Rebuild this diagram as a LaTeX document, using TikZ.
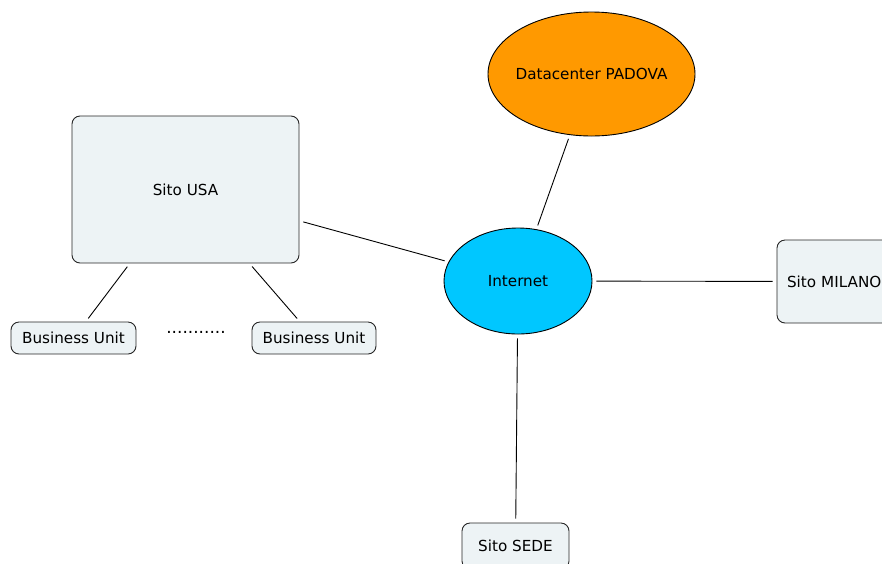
\documentclass[tikz,border=0pt]{standalone}
\usepackage{fontspec}
\setmainfont{DejaVu Sans}
\usetikzlibrary{shapes.geometric}
\definecolor{boxfill}{RGB}{237,243,245}
\definecolor{dcorange}{RGB}{255,153,0}
\definecolor{netcyan}{RGB}{0,199,255}
\tikzset{
  every node/.style={font=\fontsize{15.2}{18}\selectfont},
  site/.style={draw=black!85, line width=0.9pt, fill=boxfill, rounded corners=8pt, inner sep=0pt},
  cloud/.style={ellipse, draw=black, line width=0.9pt, inner sep=0pt},
  link/.style={line width=0.9pt, shorten <=4pt, shorten >=4pt}
}
\begin{document}
\begin{tikzpicture}[x=1pt, y=-1pt]
  \useasboundingbox (0,0) rectangle (882,563);
  % sites and clouds
  \node[cloud, fill=dcorange, inner xsep=-16pt, minimum width=207pt, minimum height=124pt] (dc) at (591.5,74) {Datacenter PADOVA};
  \node[cloud, fill=netcyan, minimum width=148pt, minimum height=106pt] (inet) at (518,281) {Internet};
  \node[site, minimum width=227pt, minimum height=147pt] (usa) at (185.5,189.5) {Sito USA};
  \node[site, minimum width=125pt, minimum height=32pt] (bu1) at (73.5,338) {Business Unit};
  \node[site, minimum width=124pt, minimum height=32pt] (bu2) at (314,338) {Business Unit};
  \node[font=\fontsize{17}{18}\selectfont] (dots) at (196,332) {...........};
  \node[site, inner xsep=10pt, minimum height=83pt, text width=104pt, align=left] (mil) at (839,281.5) {Sito MILANO};
  \node[site, minimum width=107pt, minimum height=46pt] (sede) at (515.5,546) {Sito SEDE};
  % connections
  \draw[link] (usa) -- (inet);
  \draw[link] (dc) -- (inet);
  \draw[link] (inet) -- (mil);
  \draw[link] (inet) -- (sede);
  \draw[link] (usa) -- (bu1);
  \draw[link] (usa) -- (bu2);
\end{tikzpicture}
\end{document}
